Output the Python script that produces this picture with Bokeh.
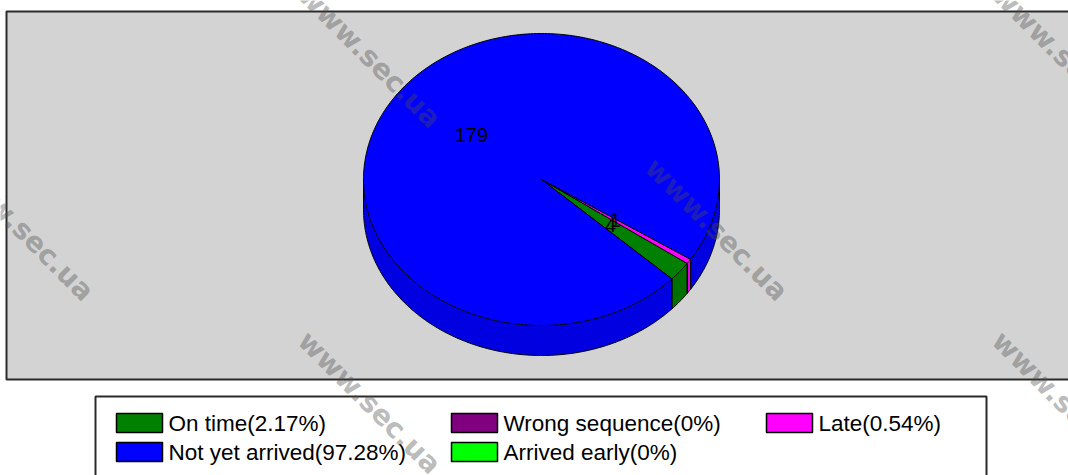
import numpy as np
from bokeh.plotting import figure
from bokeh.models import Range1d
from bokeh.embed import file_html
from bokeh.resources import INLINE
from bokeh.core.properties import value

# ---------------- data ----------------
categories = ["On time", "Wrong sequence", "Late", "Not yet arrived", "Arrived early"]
counts = [4, 0, 1, 179, 0]
colors = ["#008000", "#800080", "#ff00ff", "#0000ff", "#00ff00"]
side_colors = ["#007000", "#700070", "#e000e0", "#0000e0", "#00e000"]
watermark_text = "www.sec.ua"

# ---------------- layout ----------------
W, H = 1068, 475
CX, CY, RX, RY, DEPTH = 541, 179, 178, 146, 30
START = np.deg2rad(42.9)          # screen angle of first slice edge (y down)
LABEL_R = 0.5
legend_cols_x = [116, 451, 766]
legend_rows_y = [413, 442]
sw_w, sw_h = 46, 19
wm_centers = [(369, 56), (22, 229), (716, 229), (369, 402), (1063, 56), (1063, 402)]

p = figure(width=W, height=H, output_backend="svg", toolbar_location=None,
           x_range=Range1d(0, W), y_range=Range1d(H, 0),
           x_axis_type=None, y_axis_type=None, min_border=0)
p.grid.visible = False
p.outline_line_color = None
p.background_fill_color = "white"
p.border_fill_color = "white"

# grey plot panel
p.quad(left=[6], right=[1080], top=[11], bottom=[379], fill_color="#d3d3d3",
       line_color="#2a2a2a", line_width=2)

# ---------------- pie geometry ----------------
total = float(sum(counts))
fracs = [c / total for c in counts]
starts, ends = [], []
t = START
for f in fracs:
    starts.append(t)
    t = t - 2 * np.pi * f
    ends.append(t)

# side walls (front half: sin(t) >= 0)
side_xs, side_ys, side_cols = [], [], []
edge_ts = []
for i in range(len(counts)):
    if fracs[i] <= 0:
        continue
    lo, hi = ends[i], starts[i]
    for k in range(-2, 3):
        a = max(lo, 2 * np.pi * k)
        b = min(hi, 2 * np.pi * k + np.pi)
        if b > a:
            ts = np.linspace(a, b, 120)
            xs = CX + RX * np.cos(ts)
            yt = CY + RY * np.sin(ts)
            side_xs.append(list(xs) + list(xs[::-1]))
            side_ys.append(list(yt) + list((yt + DEPTH)[::-1]))
            side_cols.append(side_colors[i])
            edge_ts += [a, b]
p.patches(xs=side_xs, ys=side_ys, fill_color=side_cols, line_color=None)

# wall outline
tb = np.linspace(0, np.pi, 300)
p.line(CX + RX * np.cos(tb), CY + RY * np.sin(tb) + DEPTH, line_color="black", line_width=1)
vx, vy = [], []
for tt in edge_ts:
    x = CX + RX * np.cos(tt)
    y = CY + RY * np.sin(tt)
    vx.append([x, x]); vy.append([y, y + DEPTH])
p.multi_line(xs=vx, ys=vy, line_color="black", line_width=1)

# top faces
top_xs, top_ys, top_cols = [], [], []
for i in range(len(counts)):
    if fracs[i] <= 0:
        continue
    n = max(3, int(400 * fracs[i]) + 2)
    ts = np.linspace(starts[i], ends[i], n)
    top_xs.append([CX] + list(CX + RX * np.cos(ts)) + [CX])
    top_ys.append([CY] + list(CY + RY * np.sin(ts)) + [CY])
    top_cols.append(colors[i])
p.patches(xs=top_xs, ys=top_ys, fill_color=top_cols, line_color="black", line_width=1)

# slice labels
lx, ly, lt = [], [], []
for i in range(len(counts)):
    if counts[i] <= 0:
        continue
    tm = (starts[i] + ends[i]) / 2
    lx.append(CX + LABEL_R * RX * np.cos(tm))
    ly.append(CY + LABEL_R * RY * np.sin(tm))
    lt.append(str(counts[i]))
p.text(x=lx, y=ly, text=lt, text_font=value("Liberation Sans"), text_font_size="20px",
       text_align="center", text_baseline="middle", text_color="black")

# ---------------- legend ----------------
p.quad(left=[95], right=[986], top=[396], bottom=[490], fill_color="white",
       line_color="#2a2a2a", line_width=2)
def fmt(v):
    return "{:.2f}".format(v).rstrip("0").rstrip(".")
leg_labels = ["{}({}%)".format(c, fmt(100 * f)) for c, f in zip(categories, fracs)]
sx, sy, tx, ty = [], [], [], []
for i in range(len(categories)):
    col = legend_cols_x[i % 3]
    row = legend_rows_y[i // 3]
    sx.append(col); sy.append(row)
    tx.append(col + sw_w + 6); ty.append(row + sw_h / 2)
p.quad(left=sx, right=[x + sw_w for x in sx], top=sy, bottom=[y + sw_h for y in sy],
       fill_color=colors, line_color="black", line_width=1.5)
p.text(x=tx, y=ty, text=leg_labels, text_font=value("Liberation Sans"), text_font_size="22.5px",
       text_align="left", text_baseline="middle", text_color="black")

# ---------------- watermarks ----------------
p.text(x=[c[0] for c in wm_centers], y=[c[1] for c in wm_centers],
       text=[watermark_text] * len(wm_centers), angle=-np.pi / 4,
       text_font=value("DejaVu Sans"), text_font_style="bold", text_font_size="28px",
       text_align="center", text_baseline="middle", text_color="#4e4e4e", text_alpha=0.4)

open("out.html", "w").write(file_html(p, INLINE))
